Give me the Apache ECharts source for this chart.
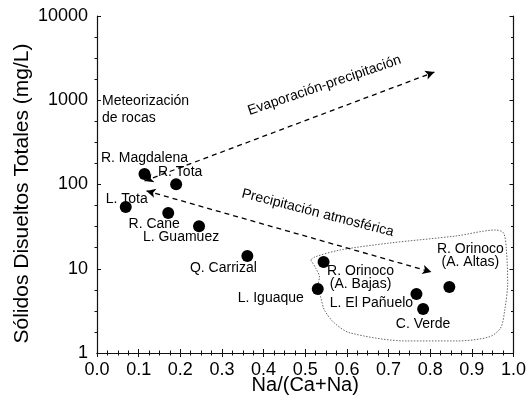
<!DOCTYPE html>
<html>
<head>
<meta charset="utf-8">
<script src="https://cdn.jsdelivr.net/npm/echarts@6/dist/echarts.min.js"></script>
<style>html,body{margin:0;padding:0;background:#fff}#c{width:529px;height:410px}</style>
</head>
<body>
<div id="c"></div>
<script>
// ---- data ----
var siteNames = ['R. Magdalena','R. Tota','L. Tota','R. Cane','L. Guamuez','Q. Carrizal','L. Iguaque','R. Orinoco\n(A. Bajas)','L. El Pañuelo','C. Verde','R. Orinoco\n(A. Altas)'];
var naRatio   = [0.114, 0.190, 0.069, 0.171, 0.245, 0.361, 0.530, 0.544, 0.767, 0.783, 0.846];
var tdsValues = [133, 101, 54, 46, 32, 14.2, 5.75, 12.0, 5.0, 3.33, 6.07];
var xTicks = ['0.0','0.1','0.2','0.3','0.4','0.5','0.6','0.7','0.8','0.9','1.0'];
var yTicks = [1, 10, 100, 1000, 10000];
// arrows [x1,y1,x2,y2]
var evapArrow   = [0.114, 110, 0.810, 2160];
var precipArrow = [0.119, 84, 0.803, 9.15];
// dotted enclosure of the Orinoco group
var enclosureX = [0.513,0.525,0.534,0.530,0.537,0.546,0.570,0.608,0.743,0.862,0.941,0.969,0.979,0.986,0.983,0.976,0.957,0.862,0.703,0.584,0.523,0.513];
var enclosureY = [12.7,10.2,7.98,6.07,4.62,3.24,2.27,1.73,1.39,1.39,1.55,1.98,3.24,6.78,16.7,26.6,28.8,24.5,20.2,16.7,13.8,12.7];
// annotations
var noteTexts = ['Meteorización\nde rocas','Evaporación-precipitación','Precipitación atmosférica'];
var noteX = [0.012, 0.546, 0.530];
var noteY = [780, 1500, 45.9];

// ---- presentation ----
var labelOffsets = [[0,-16],[4,-12],[1,-8],[-14,11],[-18,11],[-24,12],[-47,9],[37,16],[-45,9],[0,15],[21,-31]];
var noteRotate = [0, 18.8, -14.5];
var noteAlign = ['left','center','center'];
var FONT = '"Liberation Sans", Arial, Helvetica, sans-serif';
var INK = '#000';
var decades = Math.log10(yTicks[yTicks.length - 1] / yTicks[0]);

var pts = naRatio.map(function (x, i) {
  return { value: [x, tdsValues[i]], label: { offset: labelOffsets[i] } };
});
var enclosure = enclosureX.map(function (x, i) { return [x, enclosureY[i]]; });
var notes = noteTexts.map(function (t, i) {
  return {
    value: [noteX[i], noteY[i]],
    label: { formatter: t, rotate: noteRotate[i], align: noteAlign[i] }
  };
});

var axisLineStyle = { show: true, lineStyle: { color: '#111', width: 1.2 } };
var tickStyle = { show: true, inside: true, length: 4, lineStyle: { color: '#111' } };
var minorStyle = { show: true, splitNumber: 4, length: 2.5, lineStyle: { color: '#111' } };

var chart = echarts.init(document.getElementById('c'), null, { renderer: 'canvas' });
chart.setOption({
  animation: false,
  backgroundColor: '#fff',
  grid: { left: 97, right: 11, top: 16, bottom: 57 },
  xAxis: [
    {
      type: 'value', min: 0, max: 1, interval: 0.1, position: 'bottom',
      axisLine: axisLineStyle, axisTick: tickStyle, minorTick: minorStyle, splitLine: { show: false },
      name: 'Na/(Ca+Na)', nameLocation: 'middle', nameGap: 22, nameMoveOverlap: false,
      nameTextStyle: { fontFamily: FONT, fontSize: 20, color: INK, verticalAlign: 'top' },
      axisLabel: { fontFamily: FONT, fontSize: 18, color: INK, margin: 8,
        formatter: function (v) { return xTicks[Math.round(v * 10)]; } }
    },
    {
      type: 'value', min: 0, max: 1, interval: 0.1, position: 'top',
      axisLine: axisLineStyle, axisTick: tickStyle, minorTick: minorStyle, splitLine: { show: false },
      axisLabel: { show: false }
    }
  ],
  yAxis: [
    {
      type: 'log', logBase: 10, min: yTicks[0], max: yTicks[yTicks.length - 1], position: 'left',
      axisLine: axisLineStyle, axisTick: tickStyle, splitLine: { show: false },
      name: 'Sólidos Disueltos Totales (mg/L)', nameLocation: 'middle', nameGap: 64, nameRotate: 90,
      nameMoveOverlap: false,
      nameTextStyle: { fontFamily: FONT, fontSize: 21, color: INK, padding: [0, 18, 0, 0] },
      axisLabel: { fontFamily: FONT, fontSize: 18, color: INK, margin: 9,
        formatter: function (v) { return String(v); } }
    },
    {
      // log-uniform minor ticks on the left side (exponent scale)
      type: 'value', min: 0, max: decades, interval: 1, position: 'left',
      axisLine: { show: false }, axisTick: { show: false }, minorTick: minorStyle,
      splitLine: { show: false }, axisLabel: { show: false }
    },
    {
      type: 'value', min: 0, max: decades, interval: 1, position: 'right',
      axisLine: axisLineStyle, axisTick: tickStyle, minorTick: minorStyle,
      splitLine: { show: false }, axisLabel: { show: false }
    }
  ],
  series: [
    {
      type: 'line', data: enclosure, smooth: 0.3, symbol: 'none', silent: true,
      lineStyle: { color: '#666', width: 1, type: [1.5, 1.5] }, z: 1
    },
    {
      type: 'scatter', data: pts, symbol: 'circle', symbolSize: 12,
      itemStyle: { color: '#000', opacity: 1 },
      label: {
        show: true, position: 'inside', formatter: function (p) { return siteNames[p.dataIndex]; },
        fontFamily: FONT, fontSize: 14, color: INK, lineHeight: 13, align: 'center', verticalAlign: 'middle'
      },
      markLine: {
        silent: true, symbol: ['arrow', 'arrow'], symbolSize: [7, 9], label: { show: false },
        lineStyle: { color: '#000', width: 1.3, type: [5, 4] },
        data: [
          [{ coord: [evapArrow[0], evapArrow[1]] }, { coord: [evapArrow[2], evapArrow[3]] }],
          [{ coord: [precipArrow[0], precipArrow[1]] }, { coord: [precipArrow[2], precipArrow[3]] }]
        ]
      },
      z: 3
    },
    {
      type: 'scatter', data: notes, symbolSize: 0, silent: true,
      itemStyle: { opacity: 1 },
      label: { show: true, position: 'inside', fontFamily: FONT, fontSize: 14, color: INK,
        lineHeight: 17, verticalAlign: 'middle' },
      z: 4
    }
  ]
});
</script>
</body>
</html>
